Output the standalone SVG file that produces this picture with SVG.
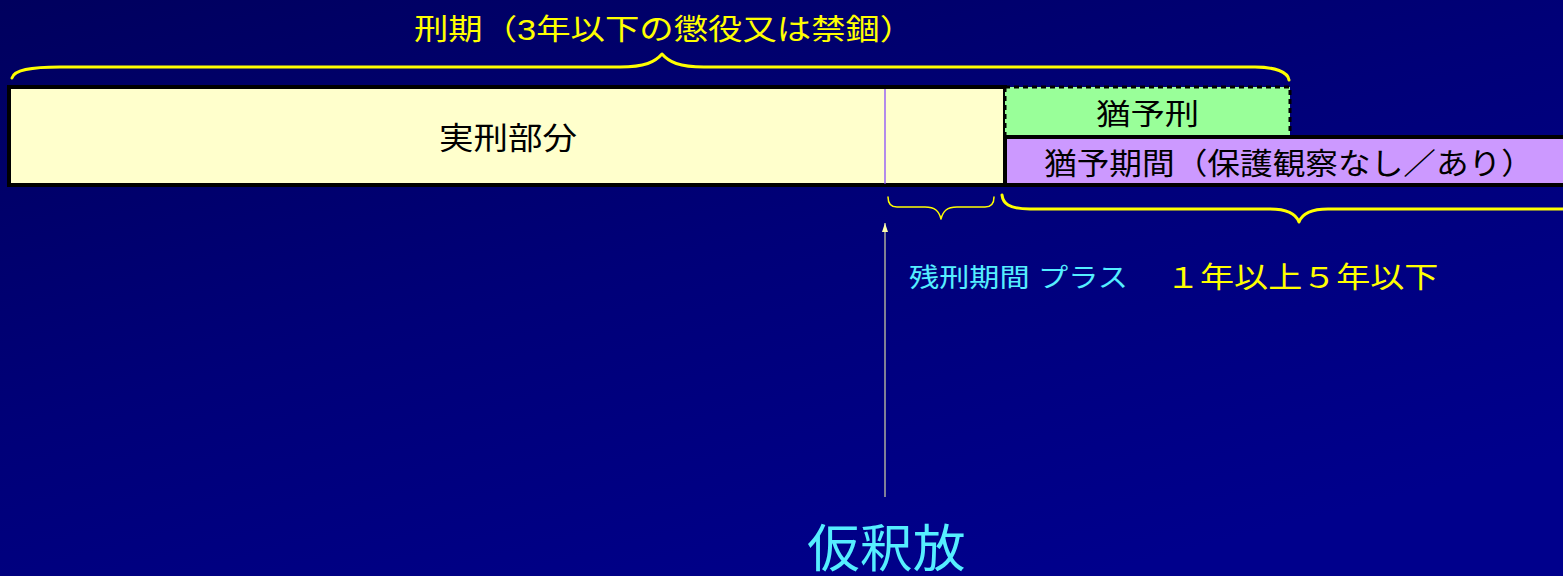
<svg xmlns="http://www.w3.org/2000/svg" width="1563" height="576" viewBox="0 0 1563 576">
<defs>
<linearGradient id="bg" x1="0" y1="0" x2="0.7" y2="1">
<stop offset="0" stop-color="#00005E"/>
<stop offset="0.5" stop-color="#000078"/>
<stop offset="1" stop-color="#00008C"/>
</linearGradient>
<marker id="ah" markerWidth="9" markerHeight="6" refX="9" refY="3" orient="auto" markerUnits="userSpaceOnUse" viewBox="0 0 9 6">
<path d="M0,0 L9,3 L0,6 Z" fill="#FFFFAA"/>
</marker>
<style>
.t{font-family:"Liberation Sans","Noto Sans CJK JP",sans-serif;}
.ylw{fill:#FFFF00;}
.cyn{fill:#55EEFF;}
.blk{fill:#000000;}
.brace{fill:none;stroke:#FFFF00;stroke-linecap:round;stroke-linejoin:round;}
</style>
</defs>
<rect width="1563" height="576" fill="url(#bg)"/>

<g id="title">
<text class="t ylw" transform="translate(414,40) scale(1.15,1)" font-size="29" textLength="435" lengthAdjust="spacingAndGlyphs">刑期（3年以下の懲役又は禁錮）</text>
</g>

<g id="jikkei">
<rect x="9" y="87" width="996" height="98" fill="#FFFFCC" stroke="#000" stroke-width="4"/>
<text class="t blk" transform="translate(439,149) scale(1.11,1)" font-size="31" textLength="124.3" lengthAdjust="spacingAndGlyphs">実刑部分</text>
</g>

<g id="yuyokei">
<rect x="1005" y="87" width="285" height="50" fill="#99FF99"/>
<path d="M1005,87 H1290 V137 M1005,87 V137" fill="none" stroke="#000" stroke-width="3" stroke-dasharray="5,4"/>
<text class="t blk" transform="translate(1096,125) scale(1.2,1)" font-size="29" textLength="86" lengthAdjust="spacingAndGlyphs">猶予刑</text>
</g>

<g id="yuyokikan">
<rect x="1005" y="137" width="562" height="48" fill="#CC99FF" stroke="#000" stroke-width="4"/>
<text class="t blk" transform="translate(1044,174) scale(1.09,1)" font-size="30" textLength="449.5" lengthAdjust="spacingAndGlyphs">猶予期間（保護観察なし／あり）</text>
</g>

<g id="connectors">
<line x1="885" y1="89" x2="885" y2="184" stroke="#7F3FFF" stroke-width="1.2"/>
<path class="brace" stroke-width="3" d="M12,78 C14,70 30,67 60,67 L620,67 C645,67 655,62 662,54 C669,62 679,67 704,67 L1255,67 C1275,67 1288,72 1289,80"/>
<path class="brace" stroke-width="1.5" d="M888,197 C888,203 890,207 897,207 L925,207 C935,207 939,211 941,219 C943,211 947,207 957,207 L985,207 C992,207 994,203 994,197"/>
<path class="brace" stroke-width="3" d="M1002,195 C1003,203 1008,209 1030,209 L1270,209 C1288,209 1296,214 1299,222 C1302,214 1310,209 1328,209 L1563,209"/>
<line x1="885" y1="497" x2="885" y2="223" stroke="#FFFFAA" stroke-width="1" marker-end="url(#ah)"/>
</g>

<g id="labels">
<text class="t cyn" transform="translate(909,287) scale(1.1,1)" font-size="26" textLength="199" lengthAdjust="spacingAndGlyphs">残刑期間  プラス</text>
<text class="t ylw" transform="translate(1166,288) scale(1.2,1)" font-size="29" textLength="227" lengthAdjust="spacingAndGlyphs">１年以上５年以下</text>
</g>

<g id="karishakuho">
<text class="t cyn" transform="translate(807,567) scale(1.05,1)" font-size="51" textLength="151" lengthAdjust="spacingAndGlyphs">仮釈放</text>
</g>
</svg>
